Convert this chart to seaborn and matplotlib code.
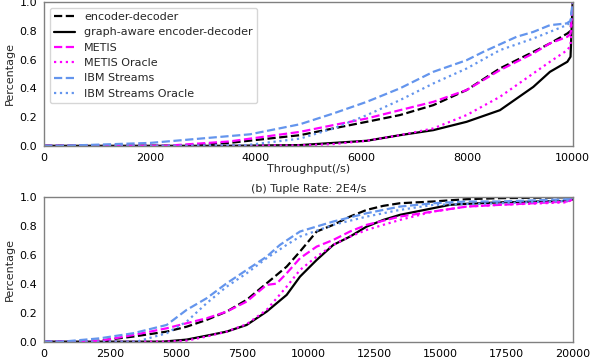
import seaborn as sns
import numpy as np
import matplotlib
matplotlib.use('Agg')
import matplotlib.pyplot as plt
import pandas as pd

# (a) top panel: CDF of throughput, tuple rate 1E4/s
top_x = {
    'encoder-decoder': [0, 2500, 3500, 4842, 5472, 6104, 6733, 7364, 7994, 8625, 9256, 9571, 9900, 9960, 10000],
    'graph-aware encoder-decoder': [0, 3500, 4842, 5472, 6104, 6733, 7364, 7994, 8625, 9256, 9571, 9900, 9960, 10000],
    'METIS': [0, 2300, 3500, 4842, 5472, 6104, 6733, 7364, 7994, 8625, 9256, 9571, 9900, 9960, 10000],
    'METIS Oracle': [0, 3000, 4842, 5472, 6104, 6733, 7364, 7994, 8625, 9256, 9571, 9900, 9960, 10000],
    'IBM Streams': [0, 366, 2005, 2950, 3896, 4842, 5472, 6104, 6733, 7364, 7994, 8310, 8940, 9256, 9571, 9886, 9960, 10000],
    'IBM Streams Oracle': [0, 2200, 3834, 4842, 5472, 6104, 6733, 7364, 7994, 8625, 9256, 9886, 9960, 10000],
}
top_y = {
    'encoder-decoder': [0, 0, 0.02, 0.074, 0.121, 0.167, 0.214, 0.283, 0.388, 0.539, 0.654, 0.713, 0.782, 0.80, 1.0],
    'graph-aware encoder-decoder': [0, 0, 0.005, 0.02, 0.035, 0.074, 0.109, 0.167, 0.248, 0.41, 0.515, 0.585, 0.62, 1.0],
    'METIS': [0, 0, 0.03, 0.097, 0.144, 0.19, 0.248, 0.306, 0.388, 0.527, 0.643, 0.713, 0.759, 0.78, 1.0],
    'METIS Oracle': [0, 0, 0.003, 0.012, 0.035, 0.074, 0.121, 0.214, 0.341, 0.504, 0.585, 0.666, 0.70, 1.0],
    'IBM Streams': [0, 0, 0.02, 0.05, 0.08, 0.15, 0.225, 0.306, 0.40, 0.515, 0.596, 0.654, 0.759, 0.793, 0.84, 0.852, 0.87, 1.0],
    'IBM Streams Oracle': [0, 0, 0.005, 0.05, 0.12, 0.213, 0.318, 0.434, 0.538, 0.666, 0.747, 0.84, 0.86, 1.0],
}

# (b) bottom panel: tuple rate 2E4/s
bot_x = {
    'encoder-decoder': [0, 1500, 2118, 3379, 4640, 5396, 6153, 6909, 7666, 8423, 9180, 9684, 10315, 10945, 11575, 12206, 12836, 13467, 14728, 15990, 17251, 19773, 20000],
    'graph-aware encoder-decoder': [0, 4500, 5396, 6153, 6909, 7666, 8423, 9180, 9684, 10315, 10945, 11575, 12206, 12836, 13467, 14728, 15359, 15990, 17251, 19773, 20000],
    'METIS': [0, 2118, 3379, 4640, 5396, 6153, 6909, 7666, 8423, 8800, 9180, 9684, 10315, 10945, 11575, 12206, 13467, 14728, 15990, 17251, 18512, 19773, 20000],
    'METIS Oracle': [0, 4500, 5396, 6153, 6909, 7666, 8423, 9180, 9684, 10315, 10945, 11575, 12206, 12836, 13467, 14728, 15990, 17251, 19773, 20000],
    'IBM Streams': [0, 700, 2118, 3379, 4640, 5396, 6153, 6909, 7666, 8423, 8927, 9684, 10945, 12206, 13467, 14728, 15990, 17251, 19773, 20000],
    'IBM Streams Oracle': [0, 3500, 4640, 5396, 6153, 6909, 7666, 8423, 9180, 9684, 10945, 12206, 13467, 14728, 17251, 19773, 20000],
}
bot_y = {
    'encoder-decoder': [0, 0, 0.007, 0.035, 0.069, 0.103, 0.15, 0.207, 0.288, 0.402, 0.517, 0.621, 0.759, 0.805, 0.862, 0.908, 0.936, 0.954, 0.966, 0.982, 0.989, 0.995, 1.0],
    'graph-aware encoder-decoder': [0, 0, 0.014, 0.041, 0.069, 0.115, 0.207, 0.322, 0.448, 0.563, 0.667, 0.724, 0.793, 0.839, 0.874, 0.92, 0.943, 0.95, 0.96, 0.97, 0.98],
    'METIS': [0, 0.005, 0.046, 0.092, 0.127, 0.161, 0.207, 0.276, 0.391, 0.40, 0.471, 0.575, 0.655, 0.701, 0.759, 0.805, 0.862, 0.897, 0.931, 0.943, 0.954, 0.966, 0.98],
    'METIS Oracle': [0, 0, 0.007, 0.035, 0.069, 0.12, 0.219, 0.379, 0.494, 0.586, 0.667, 0.724, 0.77, 0.805, 0.839, 0.897, 0.931, 0.943, 0.96, 0.98],
    'IBM Streams': [0, 0, 0.023, 0.058, 0.115, 0.219, 0.299, 0.402, 0.494, 0.586, 0.667, 0.759, 0.828, 0.885, 0.931, 0.954, 0.966, 0.966, 0.982, 0.99],
    'IBM Streams Oracle': [0, 0, 0.058, 0.138, 0.265, 0.379, 0.471, 0.575, 0.667, 0.724, 0.805, 0.862, 0.908, 0.943, 0.954, 0.97, 0.99],
}

series = ['encoder-decoder', 'graph-aware encoder-decoder', 'METIS', 'METIS Oracle',
          'IBM Streams', 'IBM Streams Oracle']
colors = ['black', 'black', '#ff00ff', '#ff00ff', '#6495ed', '#6495ed']
styles = ['--', '-', '--', ':', '--', ':']


def draw_panel(ax, xs, ys, xmax, legend):
    for name, c, ls in zip(series, colors, styles):
        df = pd.DataFrame({'x': xs[name], 'y': ys[name]})
        sns.lineplot(data=df, x='x', y='y', color=c, linestyle=ls, linewidth=1.6,
                     estimator=None, ax=ax, label=name if legend else None)
    ax.set_xlim(0, xmax)
    ax.set_ylim(0, 1.0)
    ax.set_ylabel('Percentage', labelpad=3)
    ax.set_xlabel('Throughput(/s)', labelpad=1)
    for sp in ax.spines.values():
        sp.set_color('0.5')
        sp.set_linewidth(1.0)
    ax.tick_params(colors='0.4', labelcolor='black', length=3, width=0.8, pad=2)


sns.set_style('white')
plt.rcParams['font.family'] = ['DejaVu Sans']
plt.rcParams['font.size'] = 8

fig = plt.figure(figsize=(5.98, 3.6), dpi=100)
ax1 = fig.add_axes([0.0736, 0.595, 0.884, 0.399])
ax2 = fig.add_axes([0.0736, 0.051, 0.884, 0.403])

draw_panel(ax1, top_x, top_y, 10000, True)
ax1.set_xticks([0, 2000, 4000, 6000, 8000, 10000])
ax1.legend(loc='upper left', fontsize=8, frameon=True, framealpha=0.8,
           edgecolor='0.8', fancybox=True, handlelength=1.9, labelspacing=0.48)

draw_panel(ax2, bot_x, bot_y, 20000, False)
ax2.set_xticks(np.arange(0, 20001, 2500))
ax2.set_title('(b) Tuple Rate: 2E4/s', fontsize=8, pad=3)
if ax2.get_legend() is not None:
    ax2.get_legend().remove()

fig.savefig('out.png', dpi=100)
